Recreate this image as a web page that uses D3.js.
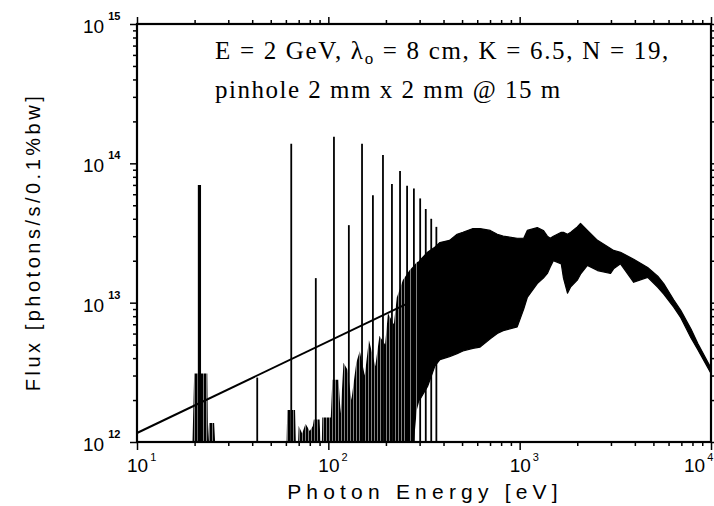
<!DOCTYPE html>
<html>
<head>
<meta charset="utf-8">
<script src="https://cdn.jsdelivr.net/npm/d3@7"></script>
<style>
  body { margin: 0; background: #fff; }
  text { fill: #000; }
</style>
</head>
<body>
<svg id="chart" width="714" height="506"></svg>
<script>
// ---------- data ----------
// harmonic spikes: photon energy [eV] and peak flux [photons/s/0.1%bw]
const spikeE    = [21.2, 42.5, 64, 86, 107, 128, 150, 171, 193, 215, 237, 258, 280, 302, 323, 345, 367];
const spikePeak = [7.0e13, 2.9e12, 1.38e14, 1.5e13, 1.55e14, 3.6e13, 1.38e14, 5.9e13, 1.15e14, 7.1e13,
                   8.8e13, 6.9e13, 6.6e13, 5.6e13, 4.7e13, 4.0e13, 3.5e13];

// dense spectrum: energy, upper and lower envelope of the filled (black) band
const envE  = [19.5, 19.9, 23.3, 23.5, 23.8, 25.3, 25.6, 60.5, 61, 67, 67.6, 69.5, 70, 73, 76, 80, 83, 84, 90, 91,
               92.5, 93, 103, 105, 113, 116, 120, 126, 132, 140, 146, 155, 163, 176, 185, 198, 205, 220, 228, 245,
               265, 280, 290, 300, 330, 360, 383, 430, 471, 505, 570, 621, 702, 764, 820, 971, 1050, 1096, 1236, 1330,
               1396, 1445, 1500, 1650, 1694, 1778, 1850, 2000, 2080, 2260, 2552, 2985, 3097, 3365, 3945, 4667, 5270, 5662, 6383, 6950,
               7850, 8535, 10000];
const envHi = [1.0e12, 3.1e12, 3.1e12, 1.0e12, 1.37e12, 1.37e12, 1.0e12, 1.0e12, 1.7e12, 1.7e12, 1.0e12, 1.0e12, 1.3e12, 1.15e12, 1.35e12, 1.2e12, 1.3e12, 1.45e12, 1.45e12, 1.0e12,
               1.0e12, 1.5e12, 1.5e12, 2.8e12, 2.8e12, 1.6e12, 3.7e12, 3.3e12, 2.0e12, 3.7e12, 4.5e12, 3.0e12, 5.4e12, 3.5e12, 5.8e12, 5.0e12, 8.4e12, 7.0e12, 1.09e13, 1.45e13,
               1.7e13, 1.85e13, 1.95e13, 2.0e13, 2.3e13, 2.5e13, 2.7e13, 2.8e13, 3.1e13, 3.2e13, 3.4e13, 3.4e13, 3.3e13, 3.1e13, 3.0e13, 2.9e13, 2.9e13, 3.3e13, 3.46e13, 3.3e13,
               3.0e13, 2.9e13, 3.0e13, 3.2e13, 3.2e13, 3.1e13, 3.2e13, 3.5e13, 3.7e13, 3.3e13, 2.8e13, 2.45e13, 2.37e13, 2.3e13, 2.05e13, 1.79e13, 1.55e13, 1.37e13, 1.05e13, 8.8e12,
               6.5e12, 5.1e12, 3.4e12];
const envLo = [1.0e12, 1.0e12, 1.0e12, 1.0e12, 1.0e12, 1.0e12, 1.0e12, 1.0e12, 1.0e12, 1.0e12, 1.0e12, 1.0e12, 1.0e12, 1.0e12, 1.0e12, 1.0e12, 1.0e12, 1.0e12, 1.0e12, 1.0e12,
               1.0e12, 1.0e12, 1.0e12, 1.0e12, 1.0e12, 1.0e12, 1.0e12, 1.0e12, 1.0e12, 1.0e12, 1.0e12, 1.0e12, 1.0e12, 1.0e12, 1.0e12, 1.0e12, 1.0e12, 1.0e12, 1.0e12, 1.0e12,
               1.0e12, 1.0e12, 1.7e12, 2.0e12, 2.5e12, 3.5e12, 3.9e12, 4.1e12, 4.3e12, 4.5e12, 4.7e12, 4.8e12, 5.5e12, 6.0e12, 6.3e12, 6.7e12, 9.0e12, 1.09e13, 1.37e13, 1.5e13,
               1.62e13, 1.8e13, 2.0e13, 1.9e13, 1.5e13, 1.17e13, 1.3e13, 1.45e13, 1.6e13, 1.85e13, 1.7e13, 1.62e13, 1.75e13, 1.9e13, 1.4e13, 1.52e13, 1.29e13, 1.15e13, 9.3e12, 7.8e12,
               5.6e12, 4.6e12, 3.1e12];

// straight reference line
const lineE    = [10, 265];
const lineFlux = [1.16e12, 1.0e13];

// axes
const xDomain = [10, 10000];
const yDomain = [1e12, 1e15];
const xTickExp = [1, 2, 3, 4];
const yTickExp = [12, 13, 14, 15];

const xTitle = "Photon Energy [eV]";
const yTitle = "Flux [photons/s/0.1%bw]";
const note1a = "E = 2 GeV, λ";
const note1sub = "o";
const note1b = " = 8 cm, K = 6.5, N = 19,";
const note2 = "pinhole 2 mm x 2 mm @ 15 m";

// ---------- drawing ----------
const svg = d3.select("#chart");
const m = { left: 137, right: 711, top: 24, bottom: 442 };

const x = d3.scaleLog().domain(xDomain).range([m.left, m.right]);
const y = d3.scaleLog().domain(yDomain).range([m.bottom, m.top]);

// vertical striping for the unresolved low-energy forest
const defs = svg.append("defs");
const pat = defs.append("pattern").attr("id", "stripes")
  .attr("patternUnits", "userSpaceOnUse").attr("width", 3).attr("height", 10);
pat.append("rect").attr("x", 0).attr("y", 0).attr("width", 2.5).attr("height", 10).attr("fill", "#000");

const plot = svg.append("g");

const env = envE.map((e, i) => ({ e, hi: envHi[i], lo: envLo[i] }));
const split = 300;
const area = d3.area().x(d => x(d.e)).y0(d => y(d.lo)).y1(d => y(d.hi));

// low-energy forest (striped)
plot.append("path")
  .datum(env.filter(d => d.e <= split))
  .attr("d", area)
  .attr("fill", "url(#stripes)");

// dense band (solid)
plot.append("path")
  .datum(env.filter(d => d.e >= split))
  .attr("d", area)
  .attr("fill", "#000")
  .attr("stroke", "#000")
  .attr("stroke-width", 1.2)
  .attr("stroke-linejoin", "round");

// harmonic spikes
plot.selectAll("line.spike")
  .data(spikeE.map((e, i) => ({ e, p: spikePeak[i], i })))
  .join("line")
  .attr("class", "spike")
  .attr("x1", d => x(d.e)).attr("x2", d => x(d.e))
  .attr("y1", y(yDomain[0])).attr("y2", d => y(d.p))
  .attr("stroke", "#000")
  .attr("stroke-width", d => d.i === 0 ? 3.2 : 1.8);

// straight line
plot.append("path")
  .datum(lineE.map((e, i) => ({ e, f: lineFlux[i] })))
  .attr("d", d3.line().x(d => x(d.e)).y(d => y(d.f)))
  .attr("fill", "none")
  .attr("stroke", "#000")
  .attr("stroke-width", 2);

// axes (ticks outward)
const majorX = xTickExp.map(p => Math.pow(10, p));
const majorY = yTickExp.map(p => Math.pow(10, p));
const minorX = x.ticks().filter(v => !majorX.some(t => Math.abs(v / t - 1) < 1e-9));
const minorY = y.ticks().filter(v => !majorY.some(t => Math.abs(v / t - 1) < 1e-9));

function addAxis(gen, tr, vals, size) {
  const g = svg.append("g").attr("transform", tr)
    .call(gen.tickValues(vals).tickSize(size).tickFormat(""));
  g.select(".domain").remove();
  g.selectAll("line").attr("stroke", "#000").attr("stroke-width", 1.5);
}
addAxis(d3.axisBottom(x), `translate(0,${m.bottom})`, minorX, 4);
addAxis(d3.axisBottom(x), `translate(0,${m.bottom})`, majorX, 8);
addAxis(d3.axisTop(x), `translate(0,${m.top})`, minorX, 4);
addAxis(d3.axisTop(x), `translate(0,${m.top})`, majorX, 7);
addAxis(d3.axisLeft(y), `translate(${m.left},0)`, minorY, 4);
addAxis(d3.axisLeft(y), `translate(${m.left},0)`, majorY, 7);
addAxis(d3.axisRight(y), `translate(${m.right},0)`, minorY, 4);
addAxis(d3.axisRight(y), `translate(${m.right},0)`, majorY, 7);

// frame
svg.append("rect")
  .attr("x", m.left).attr("y", m.top)
  .attr("width", m.right - m.left).attr("height", m.bottom - m.top)
  .attr("fill", "none").attr("stroke", "#000").attr("stroke-width", 2.2);

const labFont = "'Liberation Sans', Arial, sans-serif";

// x tick labels
xTickExp.forEach((p, i) => {
  const last = i === xTickExp.length - 1;
  const tx = last ? 684 : x(Math.pow(10, p)) - 10;
  const t = svg.append("text")
    .attr("x", tx).attr("y", 472)
    .attr("font-family", labFont).attr("font-size", 19)
    .text("10");
  t.append("tspan").attr("dy", -11).attr("dx", 2).attr("font-size", 11).text(p);
});

// y tick labels
yTickExp.forEach(p => {
  const t = svg.append("text")
    .attr("x", 83).attr("y", y(Math.pow(10, p)) + 9)
    .attr("font-family", labFont).attr("font-size", 19)
    .text("10");
  t.append("tspan").attr("dy", -13).attr("dx", 4).attr("font-size", 11).attr("font-weight", "bold").text(p);
});

// axis titles
svg.append("text")
  .attr("x", 425).attr("y", 499)
  .attr("text-anchor", "middle")
  .attr("font-family", labFont).attr("font-size", 21)
  .attr("letter-spacing", 5.2)
  .text(xTitle);

svg.append("text")
  .attr("transform", "translate(40,242) rotate(-90)")
  .attr("text-anchor", "middle")
  .attr("font-family", labFont).attr("font-size", 20)
  .attr("letter-spacing", 3.5)
  .text(yTitle);

// annotation
const serif = "'Liberation Serif', 'Times New Roman', serif";
const a1 = svg.append("text").attr("x", 215).attr("y", 59)
  .attr("font-family", serif).attr("font-size", 25).attr("letter-spacing", 1.7);
a1.append("tspan").text(note1a);
a1.append("tspan").attr("dy", 5).attr("font-size", 17).text(note1sub);
a1.append("tspan").attr("dy", -5).text(note1b);

svg.append("text").attr("x", 215).attr("y", 98)
  .attr("font-family", serif).attr("font-size", 25).attr("letter-spacing", 1.5)
  .text(note2);
</script>
</body>
</html>
